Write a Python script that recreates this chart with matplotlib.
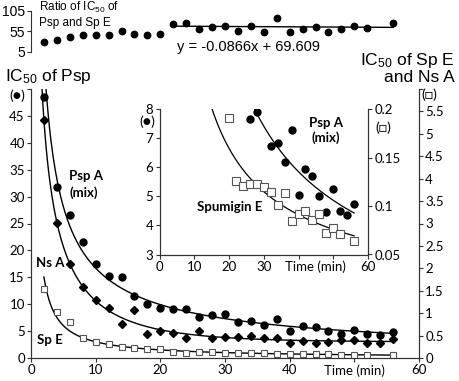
import numpy as np
import matplotlib
matplotlib.use("Agg")
import matplotlib.pyplot as plt

plt.rcParams['mathtext.fontset'] = 'custom'
plt.rcParams['mathtext.rm'] = 'Liberation Sans'
plt.rcParams['mathtext.default'] = 'rm'

# ---------------- data ----------------
time = [2, 4, 6, 8, 10, 12, 14, 16, 18, 20, 22, 24, 26, 28, 30, 32, 34, 36, 38, 40,
        42, 44, 46, 48, 50, 52, 54, 56]
psp_a = [48.6, 31.7, 26.6, 21.6, 17.5, 15.3, 15.0, 11.5, 10.0, 9.3, 9.1, 9.1,
         7.65, 7.9, 8.2, 6.75, 6.85, 6.2, 7.3, 5.05, 5.95, 5.7, 5.0, 4.45, 5.25, 4.5, 4.35, 4.75]
ns_a = [5.31, 3.01, 2.10, 1.59, 1.29, 1.12, 0.75, 1.06, 0.53, 0.60, 0.55, 0.44, 0.60, 0.44,
        0.47, 0.46, 0.49, 0.44, 0.44, 0.34, 0.39, 0.34, 0.36, 0.40, 0.40, 0.34, 0.34, 0.42]
time_spe = [2, 4, 6, 8, 10, 12, 14, 16, 18, 20, 22, 24, 26, 28, 30, 32, 34, 36, 38, 40,
            42, 44, 46, 48, 50, 52, 56]
sp_e = [1.54, 1.03, 0.80, 0.44, 0.36, 0.31, 0.25, 0.23, 0.20, 0.191, 0.126, 0.121, 0.123,
        0.123, 0.120, 0.115, 0.101, 0.114, 0.085, 0.092, 0.095, 0.086, 0.092, 0.072, 0.077,
        0.071, 0.064]
ratio = [27.9, 33.8, 42, 46.9, 46.1, 46.9, 56.7, 47.6, 45.1, 47.6, 73.2, 76.4, 61.6, 65.8,
         67.3, 56.7, 67.3, 52.5, 87, 52.5, 61.6, 65.8, 52.5, 61.6, 68.3, 63.4, 74.7]
trend_slope = -0.0866
trend_intercept = 69.609
trend_start = 22

inset_psp_start = 26
inset_spe_start = 20

# ---------------- helpers ----------------
def power_fit(x, y):
    b, ln_a = np.polyfit(np.log(x), np.log(y), 1)
    return lambda t: np.exp(ln_a) * np.power(t, b)

def cutoff_power_fit(x, y):
    """y = a * x**b * exp(-k x) + c, least squares."""
    x = np.asarray(x, float); y = np.asarray(y, float)
    best = None
    for b in np.linspace(-2.0, 0.5, 101):
        for k in np.linspace(0.0, 0.4, 81):
            A = np.column_stack([np.power(x, b) * np.exp(-k * x), np.ones_like(x)])
            coef, *_ = np.linalg.lstsq(A, y, rcond=None)
            err = np.sum((A @ coef - y) ** 2)
            if best is None or err < best[0]:
                best = (err, b, k, coef)
    _, b, k, (a, c) = best
    return lambda t: a * np.power(t, b) * np.exp(-k * t) + c

W, H = 459, 381
fig = plt.figure(figsize=(W / 100, H / 100), dpi=100)
def fx(px): return px / W
def fy(py): return 1 - py / H

TICKFONT = dict(family='Lato', size=9.5)
BOLD = dict(family='Lato', size=9.5, weight='bold')
SYM = ['Lato', 'DejaVu Sans']
EDGE = '#555555'
AXC = '#333333'

# ---------------- main axes ----------------
ax = fig.add_axes([fx(31), fy(358), fx(419) - fx(31), fy(89) - fy(358)])
ax2 = ax.twinx()
ax.set_xlim(0, 60); ax.set_ylim(0, 50); ax2.set_ylim(0, 6)
for a in (ax, ax2):
    a.spines['top'].set_visible(False)
    for s in a.spines.values():
        s.set_color(AXC); s.set_linewidth(0.8)
    a.tick_params(direction='out', length=3, width=0.8, color=AXC, pad=1.5)
ax.patch.set_visible(False)

ax.set_xticks(range(0, 61, 10))
ax.set_xticklabels(['0', '10', '20', '30', '40', 'Time (min)', '60'], **TICKFONT)
ax.set_yticks(range(0, 51, 5))
ax.set_yticklabels([str(v) for v in range(0, 50, 5)] + [''], **TICKFONT)
rt = np.arange(0, 6.01, 0.5)
ax2.set_yticks(rt)
ax2.set_yticklabels([('%g' % v) for v in rt[:-1]] + [''], **TICKFONT)

f_psp = power_fit(time, psp_a)
xx = np.linspace(1.8, 56, 300)
ax.plot(xx, f_psp(xx), color='black', lw=1.0)
ax.plot(time, psp_a, 'o', color='black', ms=5, clip_on=False)

f_ns = cutoff_power_fit(time, ns_a)
xx = np.linspace(1.6, 56, 300)
ax2.plot(xx, f_ns(xx), color='black', lw=1.0)
ax2.plot(time, ns_a, 'D', color='black', ms=3.6)

f_spe = power_fit(time_spe, sp_e)
xx = np.linspace(2, 56, 300)
ax2.plot(xx, f_spe(xx), color='black', lw=1.0)
ax2.plot(time_spe, sp_e, 's', mfc='white', mec=EDGE, mew=0.8, ms=4.2)

fig.text(fx(69), fy(176), 'Psp A', ha='left', va='center', **BOLD)
fig.text(fx(69), fy(193), '(mix)', ha='left', va='center', **BOLD)
fig.text(fx(36), fy(263), 'Ns A', ha='left', va='center', **BOLD)
fig.text(fx(37), fy(340), 'Sp E', ha='left', va='center', **BOLD)

# axis titles
fig.text(fx(5), fy(76), 'IC$_{50}$ of Psp', ha='left', va='center',
         family='Liberation Sans', size=12.5)
fig.text(fx(455), fy(60), 'IC$_{50}$ of Sp E', ha='right', va='center',
         family='Liberation Sans', size=12.5)
fig.text(fx(455), fy(78), 'and Ns A', ha='right', va='center',
         family='Liberation Sans', size=12.5)
fig.text(fx(17), fy(96), '(●)', ha='center', va='center', family=SYM, size=10)
fig.text(fx(429), fy(95), '(□)', ha='center', va='center', family=SYM, size=10)

# ---------------- ratio axes ----------------
rax = fig.add_axes([fx(31), fy(51.7), fx(419) - fx(31), fy(11) - fy(51.7)])
rax.set_xlim(0, 60); rax.set_ylim(5, 105)
for s in ('top', 'right', 'bottom'):
    rax.spines[s].set_visible(False)
rax.spines['left'].set_color(AXC); rax.spines['left'].set_linewidth(0.8)
rax.set_xticks([])
rax.set_yticks([5, 55, 105])
rax.set_yticklabels(['5', '55', '105'], family='Liberation Sans', size=10)
rax.tick_params(axis='y', direction='out', length=3, width=0.8, color=AXC, pad=1.5)
rax.patch.set_visible(False)
rax.plot(time_spe, ratio, 'o', color='black', ms=4.6, clip_on=False)
tx = np.array([trend_start, time_spe[-1]], float)
rax.plot(tx, trend_slope * tx + trend_intercept, color='black', lw=1.0)
fig.text(fx(248), fy(46.7), 'y = -0.0866x + 69.609', ha='center', va='center',
         family='Liberation Sans', size=10.5)
fig.text(fx(39), fy(7.5), 'Ratio of IC$_{50}$ of', ha='left', va='center',
         family='Liberation Sans', size=8.5)
fig.text(fx(39), fy(23), 'Psp and Sp E', ha='left', va='center',
         family='Liberation Sans', size=8.5)

# ---------------- inset ----------------
ia = fig.add_axes([fx(159.5), fy(254.5), fx(368) - fx(159.5), fy(109.3) - fy(254.5)])
ia2 = ia.twinx()
ia.set_xlim(0, 60); ia.set_ylim(3, 8); ia2.set_ylim(0.05, 0.2)
ia.set_facecolor('white')
for a in (ia, ia2):
    a.spines['top'].set_visible(False)
    for s in a.spines.values():
        s.set_color(AXC); s.set_linewidth(0.8)
    a.tick_params(direction='out', length=3, width=0.8, color=AXC, pad=1.5)
ia.set_xticks(range(0, 61, 10))
ia.set_xticklabels(['0', '10', '20', '30', '', '', '60'], **TICKFONT)
ia.annotate('Time (min)', xy=(45, 0), xycoords=('data', 'axes fraction'),
            xytext=(0, -4.5), textcoords='offset points', ha='center', va='top',
            **TICKFONT)
ia.set_yticks(range(3, 9))
ia.set_yticklabels([str(v) for v in range(3, 9)], **TICKFONT)
ia2.set_yticks([0.05, 0.1, 0.15, 0.2])
ia2.set_yticklabels(['0.05', '0.1', '0.15', '0.2'], **TICKFONT)

ip_t = [x for x in time if x >= inset_psp_start]
ip_v = [v for x, v in zip(time, psp_a) if x >= inset_psp_start]
f_ip = power_fit(ip_t, ip_v)
xx = np.linspace(inset_psp_start - 2, 56, 200)
ia.plot(xx, f_ip(xx), color='black', lw=0.9)
ia.plot(ip_t, ip_v, 'o', color='black', ms=5)

is_t = [x for x in time_spe if x >= inset_spe_start]
is_v = [v for x, v in zip(time_spe, sp_e) if x >= inset_spe_start]
f_is = power_fit(is_t, is_v)
xx = np.linspace(15, 56, 200)
ia2.plot(xx, f_is(xx), color='black', lw=0.9)
ia2.plot(is_t, is_v, 's', mfc='white', mec=EDGE, mew=0.8, ms=5.2)

fig.text(fx(309), fy(123), 'Psp A', ha='left', va='center', **BOLD)
fig.text(fx(311), fy(138), '(mix)', ha='left', va='center', **BOLD)
fig.text(fx(197), fy(207), 'Spumigin E', ha='left', va='center', **BOLD)
fig.text(fx(147), fy(122), '(●)', ha='center', va='center', family=SYM, size=10)
fig.text(fx(383), fy(128), '(□)', ha='center', va='center', family=SYM, size=10)

fig.savefig('out.png', dpi=100)
